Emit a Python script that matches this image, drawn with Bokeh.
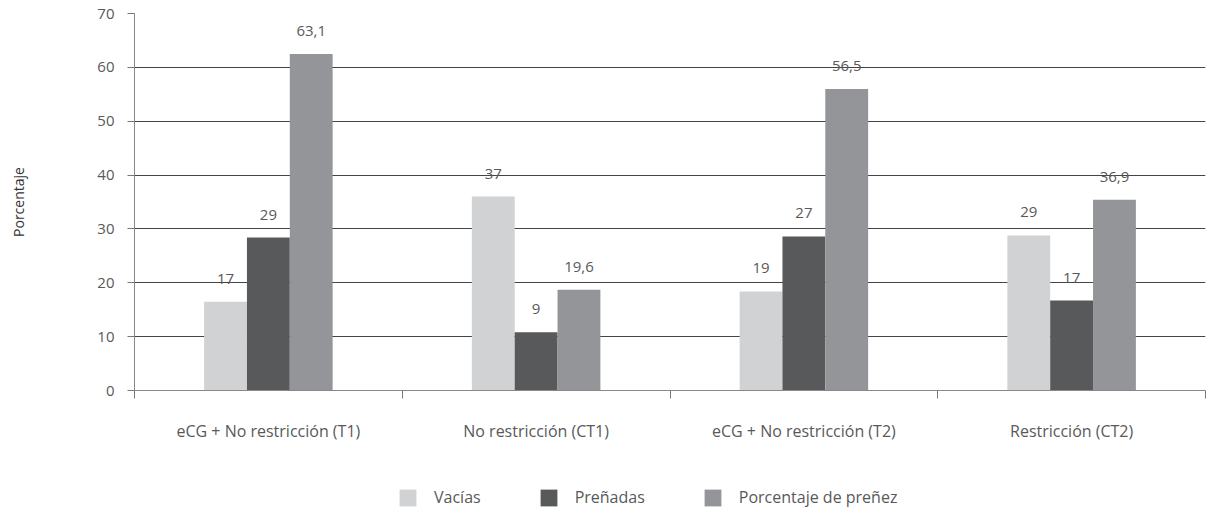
from bokeh.plotting import figure
from bokeh.models import ColumnDataSource, FixedTicker, Legend, LegendItem, Range1d
from bokeh.layouts import column
from bokeh.transform import dodge
from bokeh.core.properties import value
from bokeh.embed import file_html
from bokeh.resources import INLINE

categories = ["eCG + No restricción (T1)", "No restricción (CT1)", "eCG + No restricción (T2)", "Restricción (CT2)"]
series_names = ["Vacías", "Preñadas", "Porcentaje de preñez"]
vacias = [16.5, 36.0, 18.4, 28.8]
prenadas = [28.4, 10.8, 28.6, 16.7]
porcentaje = [62.5, 18.7, 56.0, 35.4]
vacias_labels = ["17", "37", "19", "29"]
prenadas_labels = ["29", "9", "27", "17"]
porcentaje_labels = ["63,1", "19,6", "56,5", "36,9"]
y_ticks = [0, 10, 20, 30, 40, 50, 60, 70]

colors = ["#d1d2d4", "#58595b", "#939598"]
FONT = "Open Sans"
TXT = "#595959"

xc = [i + 0.5 for i in range(len(categories))]
src = ColumnDataSource(dict(
    x=xc, v=vacias, p=prenadas, c=porcentaje,
    vl=vacias_labels, pl=prenadas_labels, cl=porcentaje_labels,
))
specs = [("v", "vl", -0.16, colors[0]), ("p", "pl", 0.0, colors[1]), ("c", "cl", 0.16, colors[2])]

p = figure(width=1206, height=450, x_range=Range1d(0, len(categories)), y_range=Range1d(0, 70),
           output_backend="svg", toolbar_location=None,
           min_border_left=134, min_border_right=1, min_border_top=13, min_border_bottom=60)
p.outline_line_color = None
p.xgrid.grid_line_color = None
p.ygrid.ticker = FixedTicker(ticks=y_ticks)
p.ygrid.grid_line_color = "#444444"
p.ygrid.grid_line_width = 1

for key, lab, off, col in specs:
    p.vbar(x=dodge("x", off), top=key, width=0.16, source=src, fill_color=col, line_color=None)
    p.text(x=dodge("x", off), y=key, text=lab, source=src, text_align="center", text_baseline="bottom",
           y_offset=-18, text_font=value(FONT), text_font_size="15px", text_color=TXT)

# x axis: minor ticks at category boundaries, labels at centers
xa = p.xaxis[0]
xa.ticker = FixedTicker(ticks=xc, minor_ticks=list(range(len(categories) + 1)))
xa.major_label_overrides = {x: c for x, c in zip(xc, categories)}
xa.major_tick_line_color = None
xa.major_tick_out = 0
xa.major_tick_in = 0
xa.minor_tick_out = 8
xa.minor_tick_in = 0
xa.minor_tick_line_color = "#777777"
xa.axis_line_color = "#888888"
xa.major_label_standoff = 21
xa.major_label_text_font = FONT
xa.major_label_text_font_size = "16px"
xa.major_label_text_color = TXT

ya = p.yaxis[0]
ya.ticker = FixedTicker(ticks=y_ticks)
ya.minor_tick_line_color = None
ya.major_tick_out = 7
ya.major_tick_in = 0
ya.major_tick_line_color = "#777777"
ya.axis_line_color = "#888888"
ya.major_label_standoff = 13
ya.major_label_text_font = FONT
ya.major_label_text_font_size = "15px"
ya.major_label_text_color = TXT
ya.axis_label = "Porcentaje"
ya.axis_label_text_font = FONT
ya.axis_label_text_font_size = "14px"
ya.axis_label_text_font_style = "normal"
ya.axis_label_text_color = "#333333"
ya.axis_label_standoff = 66

# legend strip below the chart (hidden copies of the series only feed the legend swatches)
lg = figure(width=1206, height=63, x_range=Range1d(0, len(categories)), y_range=Range1d(0, 70),
            output_backend="svg", toolbar_location=None, x_axis_type=None, y_axis_type=None,
            min_border=0)
lg.outline_line_color = None
lg.grid.grid_line_color = None
lg_renderers = []
for key, lab, off, col in specs:
    r = lg.vbar(x=dodge("x", off), top=key, width=0.16, source=src, fill_color=col, line_color=None)
    r.visible = False
    lg_renderers.append(r)
legend = Legend(items=[LegendItem(label=n, renderers=[r]) for n, r in zip(series_names, lg_renderers)],
                orientation="horizontal", location=(263, 5), padding=0, margin=0,
                border_line_color=None, background_fill_alpha=0,
                inactive_fill_alpha=0,
                glyph_width=21, glyph_height=21, label_standoff=16, spacing=57,
                label_text_font=FONT, label_text_font_size="16px", label_text_color=TXT)
lg.add_layout(legend, "center")

open("out.html", "w").write(file_html(column(p, lg, spacing=0), INLINE))
